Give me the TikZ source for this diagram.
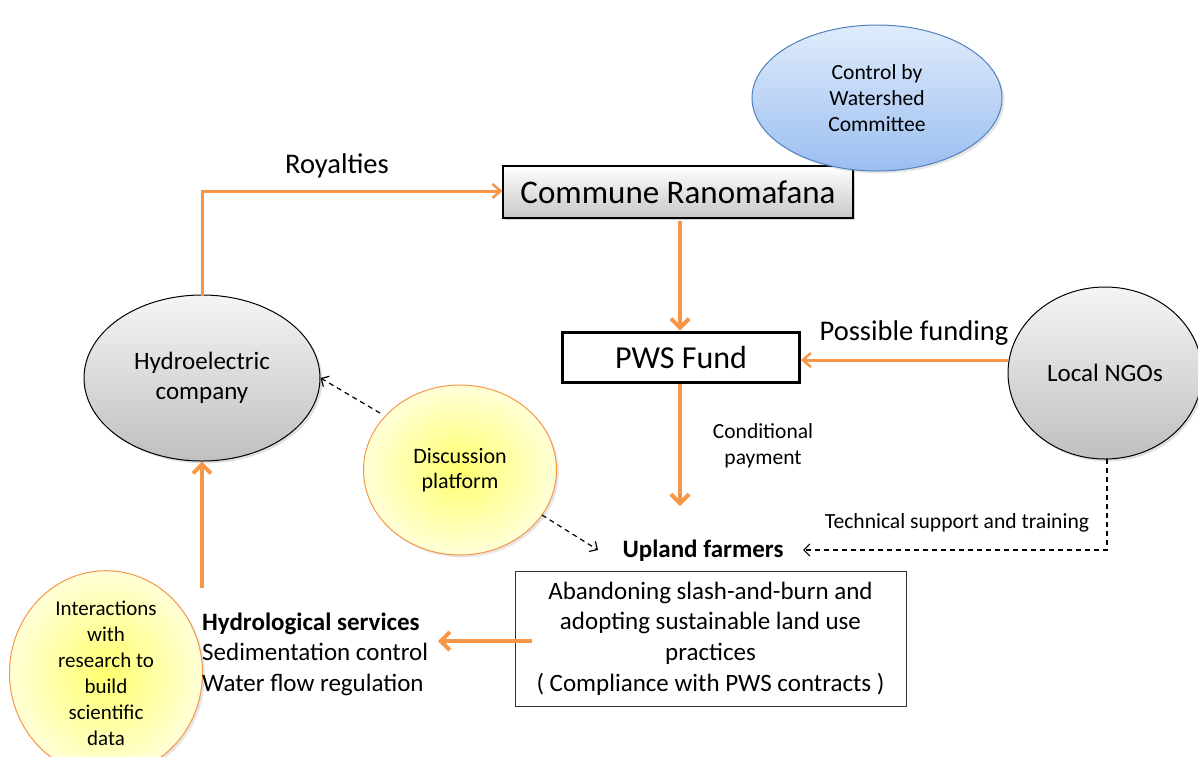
\documentclass[tikz,border=0pt]{standalone}
\usepackage{fontspec}
\setmainfont{Carlito}
\usetikzlibrary{arrows.meta,shadows,shapes.geometric}
\definecolor{flow}{HTML}{F79646}
\definecolor{blueedge}{HTML}{4F81BD}
\definecolor{bluetop}{RGB}{224,236,252}
\definecolor{bluebot}{RGB}{155,190,240}
\definecolor{yellowin}{RGB}{255,255,110}
\definecolor{yellowout}{RGB}{255,255,215}
\newcommand{\fs}[2]{\fontsize{#1}{#2}\selectfont}
\tikzset{
  grayoval/.style={ellipse,draw=black,line width=1pt,top color=black!4,bottom color=black!25,drop shadow={opacity=0.25}},
  yellowoval/.style={ellipse,draw=flow,line width=1pt,inner color=yellowin,outer color=yellowout,drop shadow={opacity=0.2}},
  blueoval/.style={ellipse,draw=blueedge,line width=1pt,top color=bluetop,bottom color=bluebot,drop shadow={opacity=0.2}},
  thickflow/.style={draw=flow,line width=4.5pt,-{Straight Barb[length=9pt,width=18pt,line width=4pt]}},
  thinflow/.style={draw=flow,line width=3pt,-{Straight Barb[length=8pt,width=14pt,line width=2.5pt]}},
  dashlink/.style={draw=black,dash pattern=on 5pt off 4pt,line width=1.2pt,-{Straight Barb[length=6pt,width=12pt]}},
  lbl/.style={inner sep=0pt,align=center,text=black},
}
\begin{document}
\begin{tikzpicture}[x=1pt,y=-1pt]
\useasboundingbox (0,0) rectangle (1198,756);
% boxes
\node[draw=black,line width=1.2pt,top color=white,bottom color=black!22,minimum width=350pt,minimum height=52pt,inner sep=0pt,drop shadow={opacity=0.35},font=\fs{33}{36}] (commune) at (678,192) {Commune Ranomafana};
\node[draw=black,line width=3pt,fill=white,minimum width=237pt,minimum height=50pt,inner sep=0pt,font=\fs{32}{36}] (fund) at (681,357) {PWS Fund};
\node[draw=black!80,line width=0.8pt,fill=white,minimum width=391pt,minimum height=135pt,inner sep=0pt,align=center,font=\fs{25}{30.7}] (practice) at (710.5,638.5) {Abandoning slash-and-burn and\\ adopting sustainable land use\\ practices\\ ( Compliance with PWS contracts )};
% ovals
\node[blueoval,minimum width=250pt,minimum height=146pt,inner sep=0pt,align=center,font=\fs{21.6}{26}] (control) at (877,98) {Control by\\ Watershed\\ Committee};
\node[grayoval,minimum width=236pt,minimum height=166pt,inner sep=0pt,align=center,font=\fs{25}{30}] (hydro) at (202,378) {Hydroelectric\\ company};
\node[grayoval,minimum width=194pt,minimum height=172pt,inner sep=0pt,font=\fs{25}{28}] (ngo) at (1105,373) {Local NGOs};
\node[yellowoval,minimum width=193pt,minimum height=170pt,inner sep=0pt,align=center,font=\fs{22}{25.5}] (platform) at (460,470) {Discussion\\ platform};
\node[yellowoval,minimum width=193pt,minimum height=176pt,inner sep=0pt,align=center,font=\fs{21}{26}] (research) at (106,673) {Interactions\\ with\\ research to\\ build\\ scientific\\ data};
% plain text nodes
\node[lbl,font=\fs{25}{28}\bfseries] (farmers) at (703,551) {Upland farmers};
\node[lbl,align=left,anchor=west,font=\fs{25}{30.5}] (services) at (202,654) {\textbf{Hydrological services}\\ Sedimentation control\\ Water flow regulation};
\node[lbl,font=\fs{28.5}{32}] (royal) at (337,166) {Royalties};
\node[lbl,font=\fs{28.5}{32}] (funding) at (914,333) {Possible funding};
\node[lbl,font=\fs{21.5}{26}] (cond) at (763,446) {Conditional\\ payment};
\node[lbl,font=\fs{21.6}{24}] (tech) at (957,523) {Technical support and training};
% connector end points
\coordinate (hydroTop) at (202,296);
\coordinate (bend) at (202,191);
\coordinate (ngoBottom) at (1107,459);
\coordinate (techCorner) at (1107,550);
\coordinate (platUp) at (380,413);
\coordinate (platDown) at (542,515);
\coordinate (farmersIn) at (598,550);
% connectors
\draw[thinflow] (hydroTop) -- (bend) -- (commune.west |- bend);
\draw[thickflow] (680,221) -- (fund.north -| 680,0);
\draw[thickflow] (680,384) -- (680,506);
\draw[thinflow] (ngo.west |- 0,360) -- (fund.east |- 0,360);
\draw[thickflow] (practice.west |- 0,641) ++(17,0) -- (438,641);
\draw[thickflow] (202,588) -- (hydro.south);
\draw[dashlink] (ngoBottom) -- (techCorner) -- (803,550);
\draw[dashlink] (platUp) -- (hydro.east);
\draw[dashlink] (platDown) -- (farmersIn);
\end{tikzpicture}
\end{document}
